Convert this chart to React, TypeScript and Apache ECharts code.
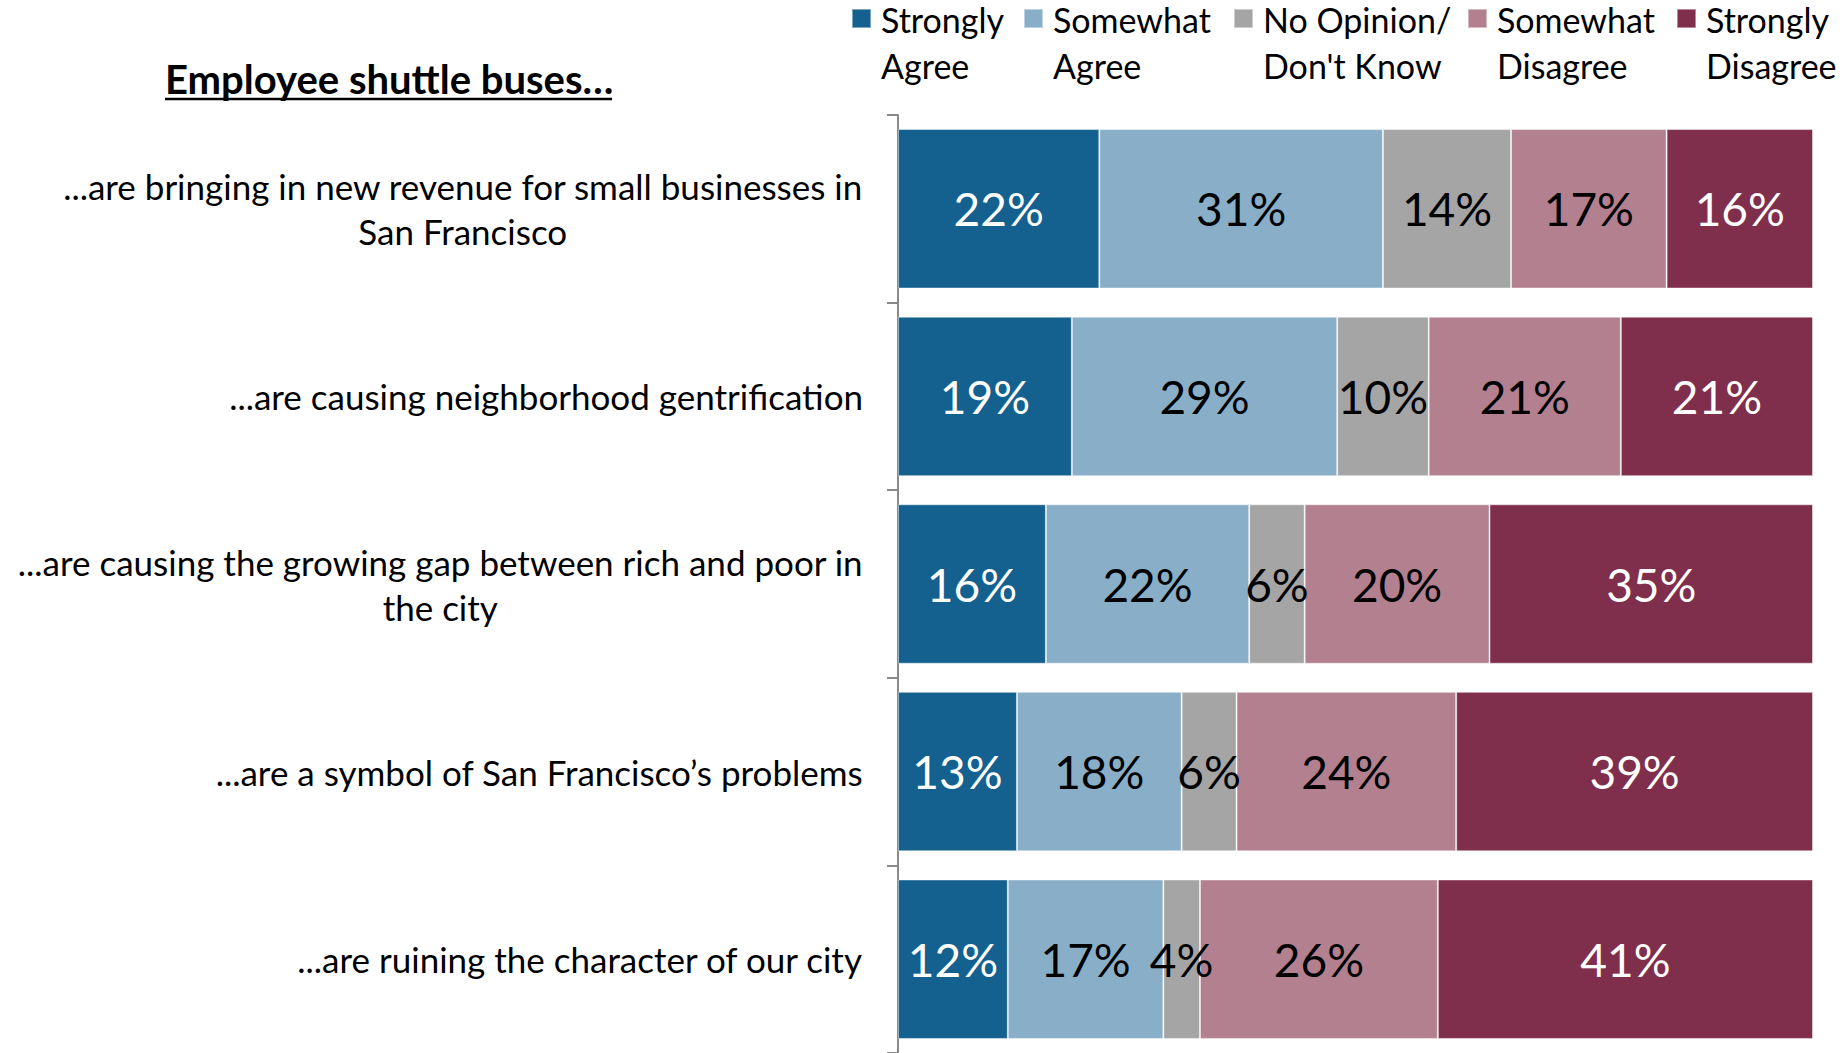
import React, { useEffect, useRef } from "react";
import * as echarts from "echarts";

const categories = [
  "...are bringing in new revenue for small businesses in\nSan Francisco",
  "...are causing neighborhood gentrification",
  "...are causing the growing gap between rich and poor in\nthe city",
  "...are a symbol of San Francisco\u2019s problems",
  "...are ruining the character of our city",
];

const seriesNames = [
  "Strongly Agree",
  "Somewhat Agree",
  "No Opinion/ Don't Know",
  "Somewhat Disagree",
  "Strongly Disagree",
];
const legendLabels = [
  "Strongly\nAgree",
  "Somewhat\nAgree",
  "No Opinion/\nDon't Know",
  "Somewhat\nDisagree",
  "Strongly\nDisagree",
];

const stronglyAgree = [22, 19, 16, 13, 12];
const somewhatAgree = [31, 29, 22, 18, 17];
const noOpinion = [14, 10, 6, 6, 4];
const somewhatDisagree = [17, 21, 20, 24, 26];
const stronglyDisagree = [16, 21, 35, 39, 41];

const seriesValues = [stronglyAgree, somewhatAgree, noOpinion, somewhatDisagree, stronglyDisagree];
const colors = ["#14608F", "#89AFC8", "#A5A5A5", "#B2808E", "#7F2E4C"];
const labelColors = ["#FFFFFF", "#000000", "#000000", "#000000", "#FFFFFF"];
const legendLefts = [851, 1023, 1233, 1467, 1676];

const FONT = "Lato, 'Open Sans', sans-serif";

export default function App() {
  const ref = useRef<HTMLDivElement>(null);
  useEffect(() => {
    if (!ref.current) return;
    const chart = echarts.init(ref.current, undefined, { renderer: "svg" });

    const rowTotals = categories.map((_, i) =>
      seriesValues.reduce((s, arr) => s + arr[i], 0)
    );

    const series = seriesValues.map((vals, si) => ({
      name: seriesNames[si],
      type: "bar",
      stack: "total",
      barCategoryGap: "15%",
      data: vals.map((v, i) => ({ value: (v / rowTotals[i]) * 100, raw: v })),
      itemStyle: {
        color: colors[si],
        borderColor: "rgba(255,255,255,0.45)",
        borderWidth: 1,
      },
      label: {
        show: true,
        position: "inside",
        fontFamily: FONT,
        fontSize: 46,
        color: labelColors[si],
        formatter: (p: any) => `${p.data.raw}%`,
      },
    }));

    const legends = seriesNames.map((name, si) => ({
      data: [name],
      left: legendLefts[si],
      top: -4,
      padding: 0,
      itemWidth: 24,
      itemHeight: 66,
      icon: "path://M0,0h19v19h-19z M24,66h0.01v0.01h-0.01z",
      selectedMode: false,
      formatter: () => legendLabels[si],
      textStyle: {
        fontFamily: FONT,
        fontSize: 34,
        lineHeight: 46,
        color: "#000",
      },
    }));

    chart.setOption({
      animation: false,
      title: {
        text: "Employee shuttle buses\u2026",
        left: 165,
        top: 59,
        padding: 0,
        textStyle: {
          fontFamily: FONT,
          fontWeight: "bold",
          fontSize: 40,
          color: "#000",
        },
      },
      graphic: [
        {
          type: "line",
          shape: { x1: 165, y1: 99, x2: 612, y2: 99 },
          style: { stroke: "#000", lineWidth: 2.5 },
        },
      ],
      legend: legends,
      grid: { left: 898, top: 115, width: 915, height: 943, containLabel: false },
      xAxis: { type: "value", min: 0, max: 100, show: false },
      yAxis: {
        type: "category",
        inverse: true,
        data: categories,
        axisLine: { show: true, lineStyle: { color: "#898989", width: 2 } },
        axisTick: { show: true, length: 11, lineStyle: { color: "#898989", width: 2 } },
        axisLabel: {
          margin: 35,
          formatter: (v: string) =>
            v
              .split("\n")
              .map((s) => `{c|${s}}`)
              .join("\n"),
          rich: {
            c: {
              align: "center",
              fontFamily: FONT,
              fontSize: 35,
              lineHeight: 45,
              color: "#000",
            },
          },
        },
      },
      series,
    });
    return () => chart.dispose();
  }, []);
  return (
    <div
      ref={ref}
      style={{ position: "absolute", left: 0, top: 0, width: 1848, height: 1053 }}
    />
  );
}
